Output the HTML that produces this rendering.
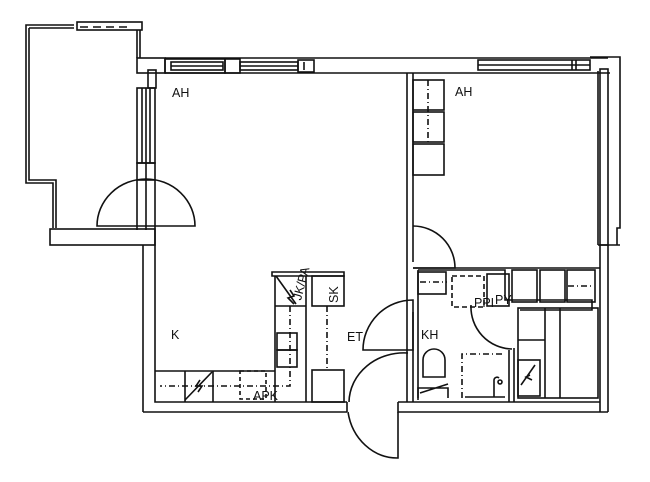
<!DOCTYPE html>
<html><head><style>
html,body{margin:0;padding:0;background:#fff;}
svg{display:block;}
text{font-family:"Liberation Sans",sans-serif;font-size:12.5px;fill:#111;}
</style></head><body>
<svg width="650" height="482" viewBox="0 0 650 482" xmlns="http://www.w3.org/2000/svg">
<g fill="none" stroke="#111" stroke-width="1.6">
<!-- balcony -->
<path d="M74,25 H26 V183 H53 V228"/>
<path d="M29,28 H74 M29,28 V180 H56 V228"/>
<rect x="77" y="22" width="65" height="8"/>
<path d="M80,27 h8 M93,27 h8 M106,27 h8 M119,27 h8"/>
<path d="M137,30 V58 M140,30 V58"/>
<rect x="50" y="229" width="105" height="16"/>
<!-- left upper wall with glass -->
<rect x="137" y="58" width="28" height="15"/>
<rect x="148" y="70" width="8" height="18"/>
<rect x="137" y="88" width="18" height="75"/>
<path d="M142,88 V163 M146,88 V163 M150,88 V163"/>
<rect x="137" y="163" width="18" height="17"/>
<path d="M146,163 V180 M146,180 V230 M137,180 V230 M155,180 V245"/>
<path d="M97,226 A49,47 0 0 1 195,226 Z"/>
<!-- top wall -->
<path d="M165,58 H608 M165,73 H400 M400,73 H610"/>
<rect x="165" y="59" width="60" height="14"/>
<rect x="171" y="62" width="52" height="8"/>
<path d="M171,66 h52"/>
<rect x="225" y="59" width="15" height="14"/>
<rect x="240" y="62" width="58" height="8"/><path d="M240,66 h58"/>
<rect x="298" y="60" width="16" height="12"/>
<path d="M304,62 v8"/>
<rect x="478" y="60" width="112" height="10"/><path d="M478,65 h112 M572,60 v10 M576,60 v10"/>
<!-- right wall -->
<path d="M590,57 H620 V228 H617 V245 M598,71 V245"/>
<rect x="600" y="69" width="8" height="176"/>
<path d="M598,245 H620 M600,245 V412 M608,245 V412"/>
<!-- bottom wall -->
<path d="M143,412 V245 M155,245 V402 H347 M143,412 H347 M347,402 V412 M398,402 V412 H608 M398,402 H600"/>
<!-- interior wall -->
<path d="M407,73 V402 M413,73 V262 M413,312 V402"/>
<path d="M413,226 A42,42 0 0 1 455,268 L413,268"/>
<!-- wardrobes -->
<rect x="413" y="80" width="31" height="30"/>
<rect x="413" y="112" width="31" height="30"/>
<rect x="413" y="144" width="31" height="31"/>
<path d="M428,80 V142" stroke-dasharray="6,3,1,3"/>
<!-- ET door -->
<path d="M413,300 A50,50 0 0 0 363,350 H413 Z"/>
<path d="M398,412 V458 A50,55 0 0 1 348,412" />
<path d="M408,353 A55,50 0 0 0 349,402"/>
<!-- kitchen -->
<path d="M272,272 H344 V276 H272 Z"/>
<path d="M155,371 H275 V276 M306,276 V402 M275,371 V402"/>
<rect x="312" y="276" width="32" height="30"/>
<rect x="312" y="370" width="32" height="32"/>
<path d="M327,306 V370" stroke-dasharray="6,3,1,3"/>
<path d="M275,306 H306 M185,371 V402 M213,371 V402"/>
<rect x="277" y="333" width="20" height="17"/>
<rect x="277" y="350" width="20" height="17"/>
<path d="M290,306 V386 H160" stroke-dasharray="6,3,1,3"/>
<path d="M276,276 L296,304 M290,290 l4,6 l-6,2 l6,6"/>
<path d="M185,400 L212,372 M200,380 l-4,6 h6 l-4,6"/>
<rect x="240" y="371" width="26" height="28" stroke-dasharray="4,3"/>
<!-- bathroom -->
<path d="M413,268 H600 M418,270 V400 M418,270 H505 V300 H592 V310 H520"/>
<rect x="418" y="272" width="28" height="22"/>
<path d="M420,282 H447" stroke-dasharray="6,3,1,3"/>
<rect x="452" y="276" width="32" height="31" stroke-dasharray="5,3"/>
<rect x="487" y="274" width="22" height="32"/>
<rect x="512" y="270" width="25" height="32"/>
<rect x="540" y="270" width="25" height="32"/>
<rect x="567" y="270" width="28" height="32"/>
<path d="M568,286 H594" stroke-dasharray="6,3,1,3"/>
<path d="M471,305 A42,42 0 0 0 512,349"/>
<path d="M509,350 V402 M514,348 V402"/>
<rect x="518" y="308" width="80" height="90"/>
<path d="M545,308 V398 M560,308 V398 M518,340 H545"/>
<rect x="518" y="360" width="22" height="36"/>
<path d="M521,385 L535,365 M530,375 l-4,2 l6,3"/>
<path d="M423,377 V360 A11,11 0 0 1 445,360 V377 Z"/>
<path d="M420,393 L448,384 M418,398 V388 H448 V398"/>
<path d="M462,398 V354 H505" stroke-dasharray="6,3,1,3"/>
<path d="M465,397 H505 M494,397 V380 A3,3 0 0 1 499,378"/>
<circle cx="500" cy="382" r="2"/>
</g>
<text x="172" y="97">AH</text>
<text x="455" y="96">AH</text>
<text x="171" y="339">K</text>
<text x="347" y="341">ET</text>
<text x="421" y="339">KH</text>
<text x="329" y="302" font-size="9" transform="rotate(-90 334 298)">SK</text>
<text x="294" y="300" font-size="9" transform="rotate(-75 298 296)">JK/PA</text>
<text x="253" y="400" font-size="9">APK</text>
<text x="474" y="307" font-size="9">PPI</text>
<text x="495" y="304" font-size="10">PY</text>
</svg>
</body></html>
